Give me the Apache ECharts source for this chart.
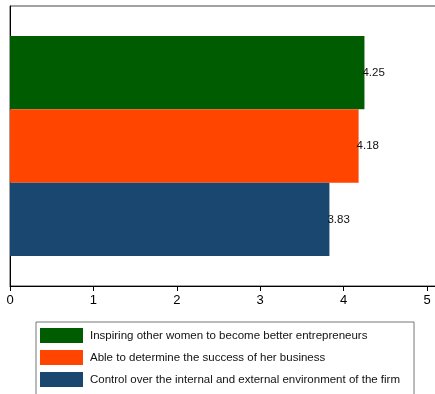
<!DOCTYPE html>
<html>
<head>
<meta charset="utf-8">
<script src="https://cdn.jsdelivr.net/npm/echarts@6/dist/echarts.min.js"></script>
<style>
  html, body { margin: 0; padding: 0; background: #fff; }
  #chart { width: 435px; height: 394px; }
</style>
</head>
<body>
<div id="chart"></div>
<script>
// data
const seriesNames = [
  'Inspiring other women to become better entrepreneurs',
  'Able to determine the success of her business',
  'Control over the internal and external environment of the firm'
]
const seriesValues = [4.25, 4.18, 3.83]
const seriesColors = ['#005c00', '#ff4500', '#1a476f']
const categories = ['']

const chart = echarts.init(document.getElementById('chart'))
const font = 'Liberation Sans, Arial, sans-serif'

const option = {
  animation: false,
  textStyle: { fontFamily: font },
  grid: {
    left: 10,
    top: 6,
    width: 5.2 * 83.4,
    height: 280,
    outerBoundsMode: 'none',
    containLabel: false,
    show: true,
    borderColor: '#444',
    borderWidth: 1
  },
  legend: {
    orient: 'vertical',
    left: 36,
    top: 322,
    height: 90,
    itemWidth: 43,
    itemHeight: 15,
    itemGap: 7,
    padding: [6, 14, 20, 4],
    borderColor: '#777',
    borderWidth: 1,
    icon: 'rect',
    textStyle: { fontSize: 11.5, color: '#111', fontFamily: font, padding: [0, 0, 0, 2] },
    data: seriesNames
  },
  xAxis: {
    type: 'value',
    min: 0,
    max: 5.2,
    interval: 1,
    splitLine: { show: false },
    axisLine: { show: true, lineStyle: { color: '#000' } },
    axisTick: { show: true, length: 5, lineStyle: { color: '#000' } },
    axisLabel: { color: '#000', fontSize: 13, margin: 8, showMaxLabel: false, fontFamily: font }
  },
  yAxis: {
    type: 'category',
    inverse: true,
    data: categories,
    axisLine: { show: true, lineStyle: { color: '#000' } },
    axisTick: { show: false },
    axisLabel: { show: false }
  },
  series: seriesNames.map((name, i) => ({
    name: name,
    type: 'bar',
    data: [seriesValues[i]],
    barGap: '0%',
    barCategoryGap: '21.4%',
    itemStyle: { color: seriesColors[i] },
    label: {
      show: true,
      position: 'right',
      distance: -2,
      color: '#111',
      fontSize: 11.5,
      fontFamily: font,
      formatter: p => p.value.toFixed(2)
    }
  }))
}

chart.setOption(option)
</script>
</body>
</html>
